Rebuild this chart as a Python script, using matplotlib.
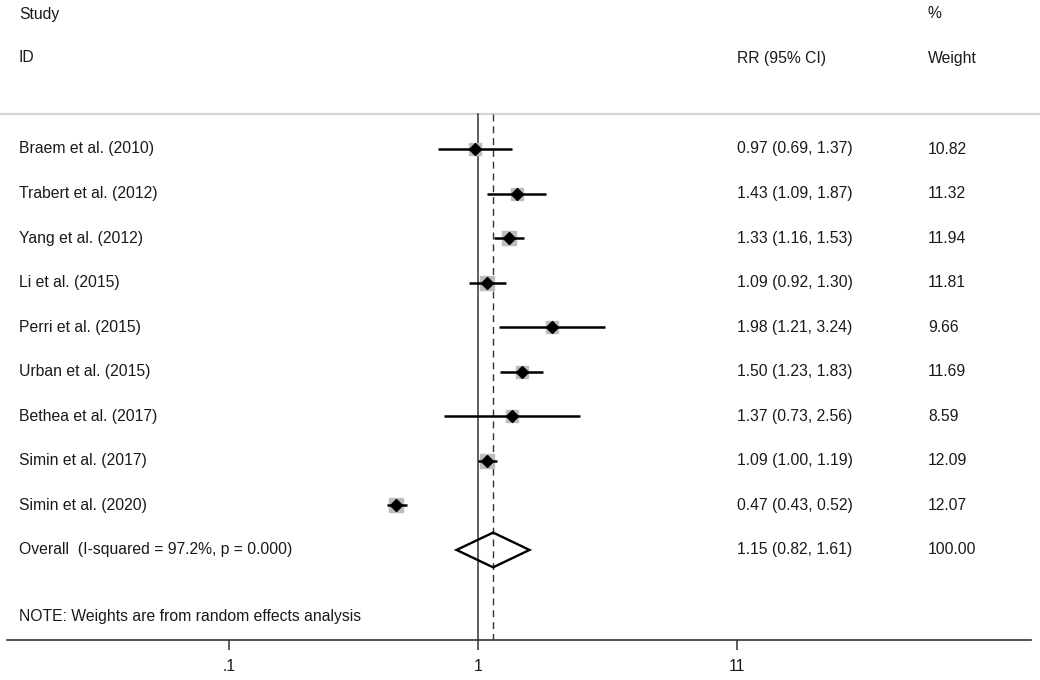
import numpy as np
import matplotlib.pyplot as plt
import matplotlib.transforms as mtransforms
from matplotlib.patches import Polygon

plt.rcParams['font.family'] = ['Liberation Sans', 'DejaVu Sans']

studies = ["Braem et al. (2010)", "Trabert et al. (2012)", "Yang et al. (2012)",
           "Li et al. (2015)", "Perri et al. (2015)", "Urban et al. (2015)",
           "Bethea et al. (2017)", "Simin et al. (2017)", "Simin et al. (2020)"]
rr = [0.97, 1.43, 1.33, 1.09, 1.98, 1.50, 1.37, 1.09, 0.47]
ci_lo = [0.69, 1.09, 1.16, 0.92, 1.21, 1.23, 0.73, 1.00, 0.43]
ci_hi = [1.37, 1.87, 1.53, 1.30, 3.24, 1.83, 2.56, 1.19, 0.52]
weights = [10.82, 11.32, 11.94, 11.81, 9.66, 11.69, 8.59, 12.09, 12.07]

overall_rr = 1.15
overall_lo = 0.82
overall_hi = 1.61
overall_label = "Overall  (I-squared = 97.2%, p = 0.000)"
note = "NOTE: Weights are from random effects analysis"

tick_vals = [0.1, 1, 11]
tick_labels = [".1", "1", "11"]

W, H = 1040, 680
fig = plt.figure(figsize=(W / 100, H / 100), dpi=100)
ax = fig.add_axes([7 / W, 40 / H, 1024 / W, 640 / H])

# log scale, 249 px per decade, 1 at x=478
ax.set_xscale('log')
ax.set_xlim(10 ** ((7 - 478) / 249), 10 ** ((1031 - 478) / 249))

row0, step = 149, 44.55
def row(px):
    return (px - row0) / step

ax.set_ylim(row(640), row(0))
top_y = row(114)

fs = 11.3
tc = '#1a1a1a'
tr = mtransforms.blended_transform_factory(fig.transFigure, ax.transData)
x_name, x_rr, x_w = 19 / W, 737 / W, 928 / W

def put(x, y, s):
    ax.text(x, y, s, transform=tr, fontsize=fs, va='center', color=tc)

# header
put(x_name, row(14), "Study")
put(x_name, row(58), "ID")
put(x_rr, row(58), "RR (95% CI)")
put(x_w, row(14), "%")
put(x_w, row(58), "Weight")
ax.plot([0, 1], [top_y, top_y], transform=tr, color='#d4d4d4', lw=1.6,
        clip_on=False)

# reference lines
ax.plot([1, 1], [top_y, row(640)], color='#333333', lw=1.1)
ax.plot([overall_rr, overall_rr], [top_y, row(640)], color='#333333', lw=1.0,
        ls=(0, (5, 3.5)))

ys = np.arange(len(studies))
for i, y in enumerate(ys):
    ax.plot([ci_lo[i], ci_hi[i]], [y, y], color='black', lw=1.8,
            solid_capstyle='butt', zorder=3)
    ax.plot(rr[i], y, marker='s', ms=9.5 * np.sqrt(weights[i] / 12.09),
            color='#bdbdbd', mec='#bdbdbd', zorder=2)
    ax.plot(rr[i], y, marker='D', ms=6.5, color='black', zorder=4)
    put(x_name, y, studies[i])
    put(x_rr, y, "%.2f (%.2f, %.2f)" % (rr[i], ci_lo[i], ci_hi[i]))
    put(x_w, y, "%.2f" % weights[i])

# overall diamond
yo = len(studies)
hh = 0.39
diamond = Polygon([[overall_lo, yo], [overall_rr, yo - hh], [overall_hi, yo],
                   [overall_rr, yo + hh]], closed=True, fill=False,
                  edgecolor='black', lw=1.7, zorder=4)
ax.add_patch(diamond)
put(x_name, yo, overall_label)
put(x_rr, yo, "%.2f (%.2f, %.2f)" % (overall_rr, overall_lo, overall_hi))
put(x_w, yo, "100.00")

put(x_name, row(617), note)

# axis styling
for s in ['top', 'right', 'left']:
    ax.spines[s].set_visible(False)
ax.spines['bottom'].set_color('#333333')
ax.spines['bottom'].set_linewidth(1.2)
ax.set_yticks([])
ax.set_xticks(tick_vals)
ax.set_xticklabels(tick_labels)
ax.xaxis.set_minor_locator(plt.NullLocator())
ax.tick_params(axis='x', direction='out', length=7.5, width=1.1,
               color='#333333', labelsize=fs, labelcolor=tc, pad=6)

fig.savefig("out.png", dpi=100)
